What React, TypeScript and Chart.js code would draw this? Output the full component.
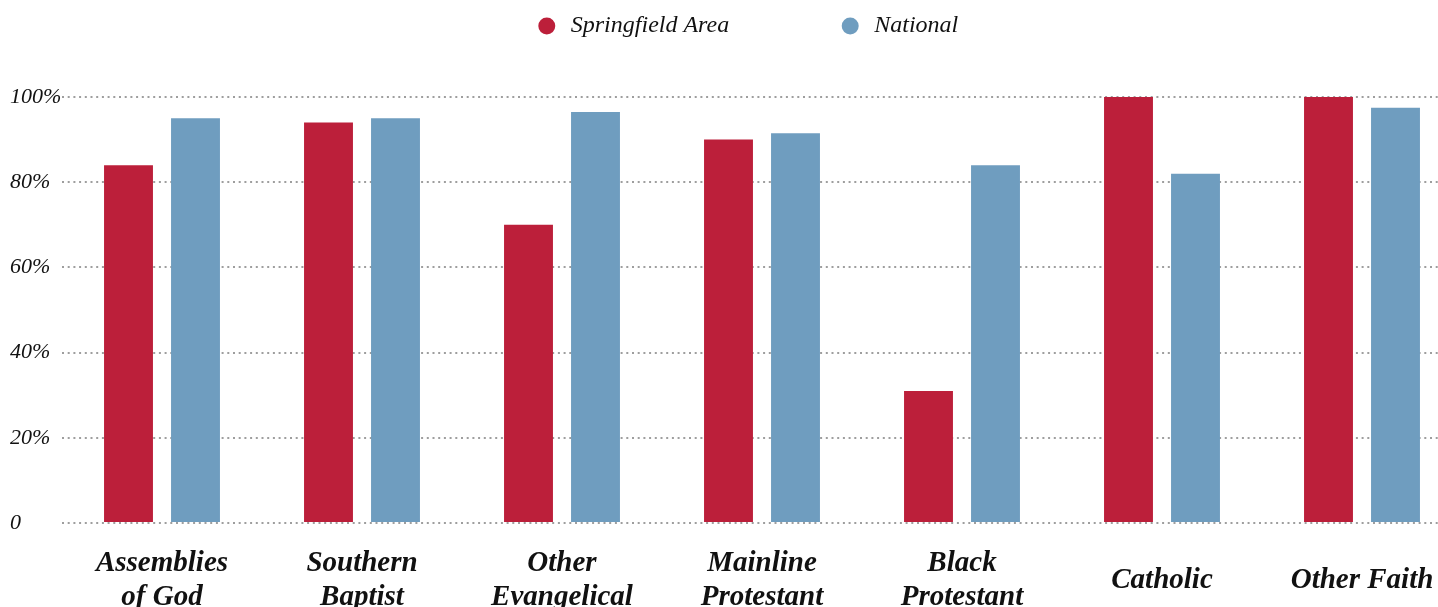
import React, { useEffect, useRef } from "react";
import { Chart, registerables } from "chart.js";

Chart.register(...registerables);

const categories: (string | string[])[] = [
  ["Assemblies", "of God"],
  ["Southern", "Baptist"],
  ["Other", "Evangelical"],
  ["Mainline", "Protestant"],
  ["Black", "Protestant"],
  "Catholic",
  "Other Faith",
];
const springfieldValues = [84, 94, 70, 90, 31, 100, 100];
const nationalValues = [95, 95, 96.5, 91.5, 84, 82, 97.5];
const seriesNames = ["Springfield Area", "National"];
const yTickValues = [0, 20, 40, 60, 80, 100];

const RED = "#BC1F3A";
const BLUE = "#6F9DBF";
const SERIF = "'Liberation Serif', 'Times New Roman', serif";

export default function App() {
  const ref = useRef<HTMLCanvasElement | null>(null);

  useEffect(() => {
    if (!ref.current) return;
    const chart = new Chart(ref.current, {
      type: "bar",
      data: {
        labels: categories,
        datasets: [
          {
            label: seriesNames[0],
            data: springfieldValues,
            backgroundColor: RED,
            borderWidth: 0,
            categoryPercentage: 0.67,
            barPercentage: 0.73,
            xAxisID: "x",
            yAxisID: "y",
          },
          {
            label: seriesNames[1],
            data: nationalValues,
            backgroundColor: BLUE,
            borderWidth: 0,
            categoryPercentage: 0.67,
            barPercentage: 0.73,
            xAxisID: "x",
            yAxisID: "y",
          },
        ],
      },
      options: {
        responsive: false,
        animation: false,
        layout: { padding: { top: -95, left: 0, right: 0, bottom: 0 } },
        plugins: {
          tooltip: { enabled: false },
          legend: {
            position: "top",
            labels: {
              usePointStyle: true,
              pointStyle: "circle",
              boxHeight: 12,
              boxWidth: 24,
              padding: 109,
              color: "#111",
              font: { family: SERIF, style: "italic", size: 24 },
            },
          },
        },
        scales: {
          x: {
            type: "category",
            position: "bottom",
            grid: { display: false, drawTicks: false },
            border: { display: false },
            ticks: {
              color: "#111",
              font: { family: SERIF, style: "italic", weight: "bold", size: 29, lineHeight: 1.14 },
              padding: 41,
              crossAlign: "center",
              maxRotation: 0,
              minRotation: 0,
              autoSkip: false,
            },
            afterFit: (s: any) => {
              s.height = 117;
            },
          },
          xTop: {
            type: "category",
            position: "top",
            grid: { display: false, drawTicks: false },
            border: { display: false },
            ticks: { display: false },
            afterFit: (s: any) => {
              s.height = 49;
            },
          },
          y: {
            type: "linear",
            position: "left",
            min: 0,
            max: 100,
            afterBuildTicks: (s: any) => {
              s.ticks = yTickValues.map((v) => ({ value: v }));
            },
            ticks: {
              color: "#111",
              font: { family: SERIF, style: "italic", size: 22 },
              crossAlign: "far",
              padding: 0,
              callback: (v: any) => (Number(v) === 0 ? "0" : v + "%"),
            },
            grid: { color: "#9e9e9e", lineWidth: 2, drawTicks: false },
            border: { display: false, dash: [2, 3.7] },
            afterFit: (s: any) => {
              s.width = 52;
            },
          },
          yR: {
            type: "linear",
            position: "right",
            grid: { display: false, drawTicks: false },
            border: { display: false },
            ticks: { display: false },
            afterFit: (s: any) => {
              s.width = 21;
            },
          },
        },
      },
    });
    return () => chart.destroy();
  }, []);

  return (
    <div
      style={{
        position: "fixed",
        left: 0,
        top: 0,
        width: 1438,
        height: 607,
        overflow: "hidden",
        background: "#fff",
      }}
    >
      <canvas
        ref={ref}
        width={1473}
        height={640}
        style={{ position: "absolute", left: 10, top: 0, width: 1473, height: 640 }}
      />
    </div>
  );
}
